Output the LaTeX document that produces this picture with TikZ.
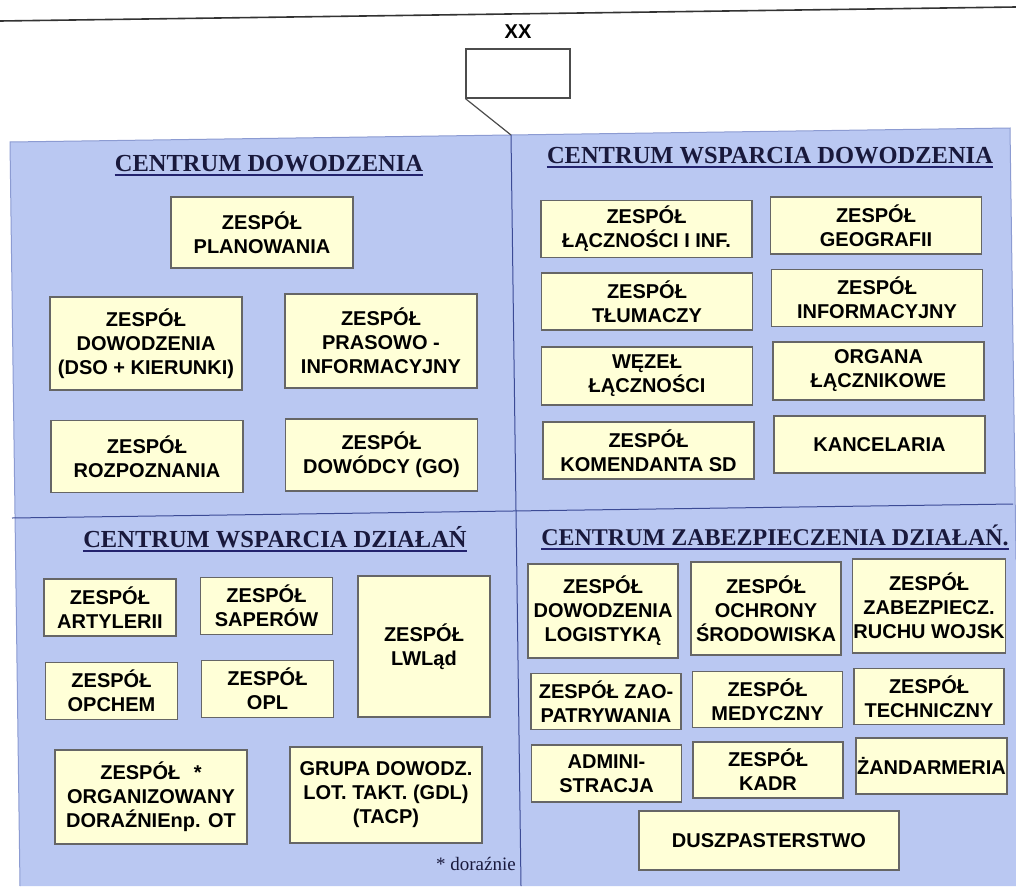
\documentclass[tikz,border=0pt]{standalone}
\usepackage{fontspec}
\setmainfont{Liberation Serif}
\setsansfont{Liberation Sans}
\usepackage{tikz}
\definecolor{panelblue}{RGB}{186, 200, 242}
\definecolor{paneledge}{RGB}{140, 155, 210}
\definecolor{unitfill}{RGB}{255, 255, 215}
\definecolor{titleink}{RGB}{25, 25, 60}
\definecolor{rulenavy}{RGB}{35, 35, 110}
\definecolor{divline}{RGB}{60, 75, 150}

\begin{document}
\begin{tikzpicture}[
  x=1pt, y=-1pt,
  unit/.style={
    rectangle, draw=black!60, line width=1.3pt,
    fill=unitfill, align=center, inner sep=1pt,
    font=\sffamily\bfseries\fontsize{20}{24}\selectfont
  },
  cdbox/.style={unit, minimum width=192pt, minimum height=72pt},
  cwdbox/.style={unit, minimum width=211pt, minimum height=57pt},
  smallbox/.style={unit, minimum width=132pt, minimum height=57pt},
  czdbox/.style={unit, minimum width=150pt, minimum height=56pt},
  ctitle/.style={
    anchor=base, inner sep=0pt, text=titleink,
    font=\rmfamily\bfseries\fontsize{24.5}{28}\selectfont
  },
  uline/.style={rulenavy, line width=2.2pt},
  divider/.style={divline, line width=1pt}
]
\useasboundingbox (0,0) rectangle (1016,886);

% header
\draw[black!80, line width=1.6pt] (0,21) -- (1016,7);
\node[anchor=base, font=\sffamily\bfseries\fontsize{20}{22}\selectfont] (xx) at (518,38) {XX};
\node[draw=black!70, line width=1.2pt, fill=white,
      minimum width=104pt, minimum height=49pt] (hq) at (518,73.5) {};

% panel and its quarters
\fill[panelblue] (10,142) -- (1010,128) -- (1016,560) -- (1016,886) -- (20,886) -- cycle;
\draw[paneledge, line width=1pt] (20,886) -- (10,142) -- (1010,128) -- (1016,560);
\coordinate (vtop) at (511,135);
\coordinate (vbot) at (521,886);
\coordinate (hleft) at (12,518);
\coordinate (hright) at (1013,504);
\draw[divider] (vtop) -- (vbot);
\draw[divider] (hleft) -- (hright);
\draw[black!70, line width=1.2pt] (hq.south west) -- (vtop);

% titles
\node[ctitle] (t1) at (269,171) {CENTRUM DOWODZENIA};
\node[ctitle] (t2) at (770,163) {CENTRUM WSPARCIA DOWODZENIA};
\node[ctitle] (t3) at (275,547) {CENTRUM WSPARCIA DZIAŁAŃ};
\node[ctitle, font=\rmfamily\bfseries\fontsize{24}{28}\selectfont] (t4) at (775,545) {CENTRUM ZABEZPIECZENIA DZIAŁAŃ.};
\foreach \t in {t1,t2,t3,t4}
  \draw[uline] ([yshift=-4pt]\t.base west) -- ([yshift=-4pt]\t.base east);

% centrum dowodzenia
\node[cdbox, minimum width=182pt, minimum height=71pt] (plan) at (262,232.5) {ZESPÓŁ\\PLANOWANIA};
\node[cdbox, minimum height=93pt] (dowo) at (146,343.5) {ZESPÓŁ\\DOWODZENIA\\(DSO + KIERUNKI)};
\node[cdbox, minimum height=94pt] (pras) at (381,341) {ZESPÓŁ\\PRASOWO -\\INFORMACYJNY};
\node[cdbox] (rozp) at (147,456.5) {ZESPÓŁ\\ROZPOZNANIA};
\node[cdbox] (dowc) at (381.5,455) {ZESPÓŁ\\DOWÓDCY (GO)};

% centrum wsparcia dowodzenia
\node[cwdbox] (lacz) at (646.5,229) {ZESPÓŁ\\ŁĄCZNOŚCI I INF.};
\node[cwdbox] (geog) at (876,225.5) {ZESPÓŁ\\GEOGRAFII};
\node[cwdbox] (tlum) at (647,301.5) {ZESPÓŁ\\TŁUMACZY};
\node[cwdbox] (info) at (877,298) {ZESPÓŁ\\INFORMACYJNY};
\node[cwdbox, minimum height=58pt] (wezl) at (647,376) {WĘZEŁ\\ŁĄCZNOŚCI};
\node[cwdbox, minimum height=58pt] (orga) at (878.5,371) {ORGANA\\ŁĄCZNIKOWE};
\node[cwdbox] (kome) at (648.5,450.5) {ZESPÓŁ\\KOMENDANTA SD};
\node[cwdbox] (kanc) at (879.5,444.5) {KANCELARIA};

% centrum wsparcia dzialan
\node[smallbox] (arty) at (110,607.5) {ZESPÓŁ\\ARTYLERII};
\node[smallbox] (sape) at (266.5,606) {ZESPÓŁ\\SAPERÓW};
\node[smallbox, minimum height=141pt] (lwla) at (424,646.5) {ZESPÓŁ\\LWLąd};
\node[smallbox] (opch) at (111.5,691) {ZESPÓŁ\\OPCHEM};
\node[smallbox] (opl) at (267.5,689) {ZESPÓŁ\\OPL};
\node[cdbox, minimum height=94pt] (orgz) at (151,797) {ZESPÓŁ\hspace{8pt} *\\ORGANIZOWANY\\DORAŹNIEnp. OT};
\node[cdbox, minimum height=96pt] (grup) at (386,795) {GRUPA DOWODZ.\\LOT. TAKT. (GDL)\\(TACP)};
\node[anchor=base east, inner sep=0pt, text=titleink,
      font=\rmfamily\fontsize{19}{22}\selectfont] (note) at (516,870) {* doraźnie};

% centrum zabezpieczenia dzialan
\node[czdbox, minimum height=94pt] (dlog) at (603,611) {ZESPÓŁ\\DOWODZENIA\\LOGISTYKĄ};
\node[czdbox, minimum height=93pt] (ochr) at (766,608.5) {ZESPÓŁ\\OCHRONY\\ŚRODOWISKA};
\node[czdbox, minimum height=94pt] (zabe) at (929,606) {ZESPÓŁ\\ZABEZPIECZ.\\RUCHU WOJSK};
\node[czdbox] (zaop) at (606,701.5) {ZESPÓŁ ZAO-\\PATRYWANIA};
\node[czdbox] (medy) at (767.5,699.5) {ZESPÓŁ\\MEDYCZNY};
\node[czdbox] (tech) at (929,696.5) {ZESPÓŁ\\TECHNICZNY};
\node[czdbox, minimum height=57pt] (admi) at (606.5,773.5) {ADMINI-\\STRACJA};
\node[czdbox] (kadr) at (768,770) {ZESPÓŁ\\KADR};
\node[czdbox] (zand) at (931.5,766) {ŻANDARMERIA};
\node[unit, minimum width=260pt, minimum height=59pt] (dusz) at (769,840.5) {DUSZPASTERSTWO};

\end{tikzpicture}
\end{document}
